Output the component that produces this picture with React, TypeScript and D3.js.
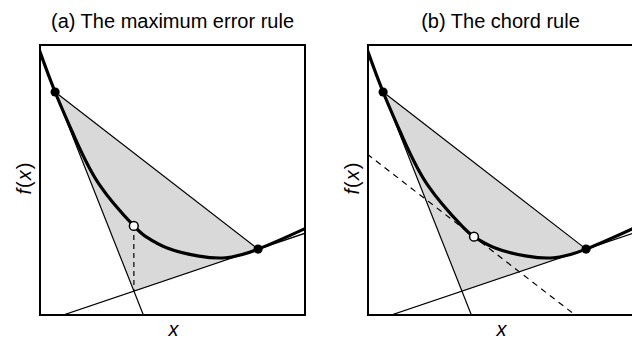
import React from "react";
import * as d3 from "d3";

// Knots of the convex function f(x), in plot units (0..10 on both axes)
const curveX = [-0.15, 0, 0.57, 1.3, 2.26, 3.54, 4.0, 4.8, 6.0, 7.0, 8.23, 10, 10.3];
const curveY = [10.19, 9.75, 8.26, 6.6, 4.8, 3.3, 2.9, 2.48, 2.18, 2.12, 2.44, 3.2, 3.34];

// Points of tangency at the two ends of the interval and the tangent slopes there
const tangentX = [0.57, 8.23];
const tangentY = [8.26, 2.44];
const tangentSlope = [-2.48, 0.332];

// The new point chosen by each rule
const probeX = [3.54, 4.0];
const probeY = [3.3, 2.9];

const titles = ["(a) The maximum error rule", "(b) The chord rule"];

const W = 632;
const H = 339;
const panelLeft = [40, 368];
const panelTop = 45;
const PW = 265;
const PH = 270;
const FONT = "'Liberation Sans', Arial, Helvetica, sans-serif";

function Panel({ index }: { index: number }) {
  const x = d3.scaleLinear().domain([0, 10]).range([0, PW]);
  const y = d3.scaleLinear().domain([0, 10]).range([PH, 0]);
  const clipId = `clip-${index}`;

  const pts: [number, number][] = curveX.map((v, i) => [v, curveY[i]]);
  const curvePath = d3
    .line<[number, number]>()
    .x((d) => x(d[0]))
    .y((d) => y(d[1]))
    .curve(d3.curveNatural)(pts);

  const [x0, x1] = tangentX;
  const [y0, y1] = tangentY;
  const [m0, m1] = tangentSlope;
  // Where the two tangents cross
  const ix = (y1 - y0 + m0 * x0 - m1 * x1) / (m0 - m1);
  const iy = y0 + m0 * (ix - x0);

  const seg = (px: number, py: number, m: number) => {
    const a = -2;
    const b = 12;
    return { x1: x(a), y1: y(py + m * (a - px)), x2: x(b), y2: y(py + m * (b - px)) };
  };

  const tri = d3.line<[number, number]>().x((d) => x(d[0])).y((d) => y(d[1]))([
    [x0, y0],
    [x1, y1],
    [ix, iy],
    [x0, y0],
  ]);

  const chordSlope = (y1 - y0) / (x1 - x0);
  const px = probeX[index];
  const py = probeY[index];

  return (
    <g transform={`translate(${panelLeft[index]},${panelTop})`}>
      <defs>
        <clipPath id={clipId}>
          <rect x={0} y={0} width={PW} height={PH} />
        </clipPath>
      </defs>
      <g clipPath={`url(#${clipId})`}>
        <path d={tri ?? ""} fill="#d9d9d9" stroke="none" />
        {[0, 1].map((k) => {
          const s = seg(tangentX[k], tangentY[k], tangentSlope[k]);
          return <line key={k} {...s} stroke="#000" strokeWidth={1.2} />;
        })}
        <line x1={x(x0)} y1={y(y0)} x2={x(x1)} y2={y(y1)} stroke="#000" strokeWidth={1.2} />
        {index === 0 ? (
          <line
            x1={x(px)}
            y1={y(py)}
            x2={x(ix)}
            y2={y(iy)}
            stroke="#000"
            strokeWidth={1.2}
            strokeDasharray="5,4"
          />
        ) : (
          <line {...seg(px, py, chordSlope)} stroke="#000" strokeWidth={1.2} strokeDasharray="6,5" />
        )}
        <path d={curvePath ?? ""} fill="none" stroke="#000" strokeWidth={3.2} />
        {[0, 1].map((k) => (
          <circle key={k} cx={x(tangentX[k])} cy={y(tangentY[k])} r={4.6} fill="#000" />
        ))}
        <circle cx={x(px)} cy={y(py)} r={4.4} fill="#fff" stroke="#000" strokeWidth={1.5} />
      </g>
      <rect x={0} y={0} width={PW} height={PH} fill="none" stroke="#000" strokeWidth={2} />
      <text
        x={PW / 2}
        y={-17}
        textAnchor="middle"
        fontFamily={FONT}
        fontSize={20}
        fill="#000"
      >
        {titles[index]}
      </text>
      <text
        x={PW / 2 + 1}
        y={PH + 21}
        textAnchor="middle"
        fontFamily={FONT}
        fontSize={20}
        fontStyle="italic"
        fill="#000"
      >
        x
      </text>
      <text
        transform={`translate(-9,${PH / 2 - 2}) rotate(-90)`}
        textAnchor="middle"
        fontFamily={FONT}
        fontSize={20}
        fill="#000"
        letterSpacing={1}
      >
        <tspan fontStyle="italic">f</tspan>
        <tspan>(</tspan>
        <tspan fontStyle="italic">x</tspan>
        <tspan>)</tspan>
      </text>
    </g>
  );
}

export default function App() {
  return (
    <svg
      width={W}
      height={H}
      viewBox={`0 0 ${W} ${H}`}
      style={{ position: "absolute", left: 0, top: 0, background: "#fff" }}
    >
      <rect width={W} height={H} fill="#fff" />
      <Panel index={0} />
      <Panel index={1} />
    </svg>
  );
}
